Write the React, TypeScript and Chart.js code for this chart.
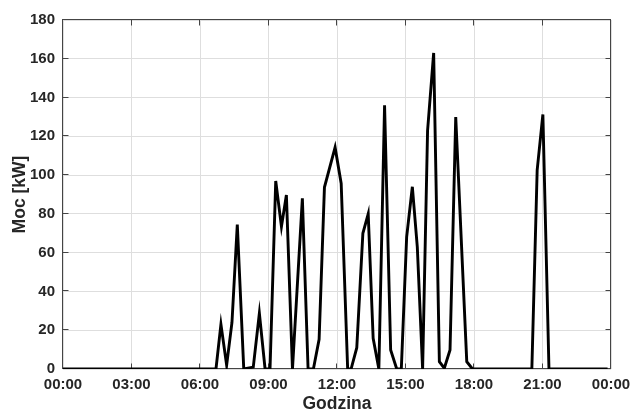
import React, { useEffect, useRef } from "react";
import { Chart, registerables } from "chart.js";

Chart.register(...registerables);

// Time stamps of the measurements (HH:MM) and power values [kW]
const times: string[] = [
  "00:00", "06:42", "06:55", "07:10", "07:24", "07:38", "07:55", "08:20", "08:36", "08:51",
  "09:04", "09:19", "09:34", "09:47", "10:03", "10:29", "10:44", "10:58", "11:13", "11:27",
  "11:55", "12:11", "12:28", "12:37", "12:52", "13:08", "13:22", "13:35", "13:50", "14:05",
  "14:21", "14:37", "14:49", "15:03", "15:18", "15:31", "15:45", "15:58", "16:14", "16:29",
  "16:42", "16:57", "17:12", "17:41", "17:56", "20:32", "20:46", "21:01", "21:17", "23:51",
];
const power: number[] = [
  0, 0, 23, 2, 24, 74.5, 0, 1, 28.7, 0,
  0, 97, 73.4, 89.7, 0, 88, 0, 0, 15.3, 93.7,
  114.3, 95.7, 0, 0, 11, 70, 80, 15.8, 0, 136,
  9.8, 0, 0, 68, 94, 63, 0, 123, 163, 3.8,
  0.4, 9.8, 130, 3.8, 0, 0, 102.6, 131.3, 0, 0,
];
const xTickHours: number[] = [0, 3, 6, 9, 12, 15, 18, 21, 24];
const xTickLabels: string[] = ["00:00", "03:00", "06:00", "09:00", "12:00", "15:00", "18:00", "21:00", "00:00"];
const yMin = 0;
const yMax = 180;
const yStep = 20;

const xTitle = "Godzina";
const yTitle = "Moc [kW]";

function toHours(t: string): number {
  const [h, m] = t.split(":").map(Number);
  return h + m / 60;
}

const FONT = "'Liberation Sans', Arial, Helvetica, sans-serif";
const FRAME = "#444444";

const framePlugin = {
  id: "frame",
  beforeDatasetsDraw(chart: any) {
    const { ctx, chartArea, scales } = chart;
    const { left, right, top, bottom } = chartArea;
    const x = scales.x;
    const y = scales.y;
    const L = 5.5;
    ctx.save();
    ctx.strokeStyle = FRAME;
    ctx.lineWidth = 1;
    ctx.beginPath();
    x.ticks.forEach((t: any) => {
      const px = Math.round(x.getPixelForValue(t.value)) - 0.5;
      ctx.moveTo(px, bottom);
      ctx.lineTo(px, bottom - L);
      ctx.moveTo(px, top);
      ctx.lineTo(px, top + L);
    });
    y.ticks.forEach((t: any) => {
      const py = Math.round(y.getPixelForValue(t.value)) - 0.5;
      ctx.moveTo(left, py);
      ctx.lineTo(left + L, py);
      ctx.moveTo(right, py);
      ctx.lineTo(right - L, py);
    });
    ctx.stroke();
    ctx.strokeRect(left - 0.5, top - 0.5, right - left, bottom - top);
    ctx.restore();
  },
};

export default function App() {
  const ref = useRef<HTMLCanvasElement | null>(null);

  useEffect(() => {
    document.body.style.margin = "0";
    const canvas = ref.current;
    if (!canvas) return;
    const data = times.map((t, i) => ({ x: toHours(t), y: power[i] }));
    const chart = new Chart(canvas, {
      type: "line",
      data: {
        datasets: [
          {
            data,
            borderColor: "#000000",
            borderWidth: 2.9,
            pointRadius: 0,
            tension: 0,
            fill: false,
          },
        ],
      },
      options: {
        animation: false,
        responsive: true,
        maintainAspectRatio: false,
        layout: { padding: { top: 20, right: 24, left: 0, bottom: 0 } },
        plugins: {
          legend: { display: false },
          tooltip: { enabled: false },
        },
        scales: {
          x: {
            type: "linear",
            min: 0,
            max: 24,
            afterBuildTicks(scale: any) {
              scale.ticks = xTickHours.map((v) => ({ value: v }));
            },
            afterFit(scale: any) {
              scale.height = 46;
              scale.paddingLeft = 0;
              scale.paddingRight = 0;
            },
            ticks: {
              autoSkip: false,
              maxRotation: 0,
              padding: 7,
              color: "#262626",
              font: { family: FONT, size: 15, weight: "bold" },
              callback: (v: any) => {
                const idx = xTickHours.indexOf(Number(v));
                return idx >= 0 ? xTickLabels[idx] : "";
              },
            },
            grid: { color: "#dedede", lineWidth: 1, drawTicks: false },
            border: { display: false },
            title: {
              display: true,
              text: xTitle,
              color: "#262626",
              font: { family: FONT, size: 17.5, weight: "bold" },
              padding: { top: 0, bottom: 0 },
            },
          },
          y: {
            min: yMin,
            max: yMax,
            afterFit(scale: any) {
              scale.width = 63;
              scale.paddingTop = 0;
              scale.paddingBottom = 0;
            },
            ticks: {
              stepSize: yStep,
              padding: 8,
              color: "#262626",
              font: { family: FONT, size: 15, weight: "bold" },
            },
            grid: { color: "#dedede", lineWidth: 1, drawTicks: false },
            border: { display: false },
            title: {
              display: true,
              text: yTitle,
              color: "#262626",
              font: { family: FONT, size: 17.5, weight: "bold" },
              padding: { top: 10, bottom: 0 },
            },
          },
        },
      },
      plugins: [framePlugin],
    });
    return () => chart.destroy();
  }, []);

  return (
    <div style={{ position: "relative", width: "635px", height: "415px" }}>
      <canvas ref={ref} />
    </div>
  );
}
